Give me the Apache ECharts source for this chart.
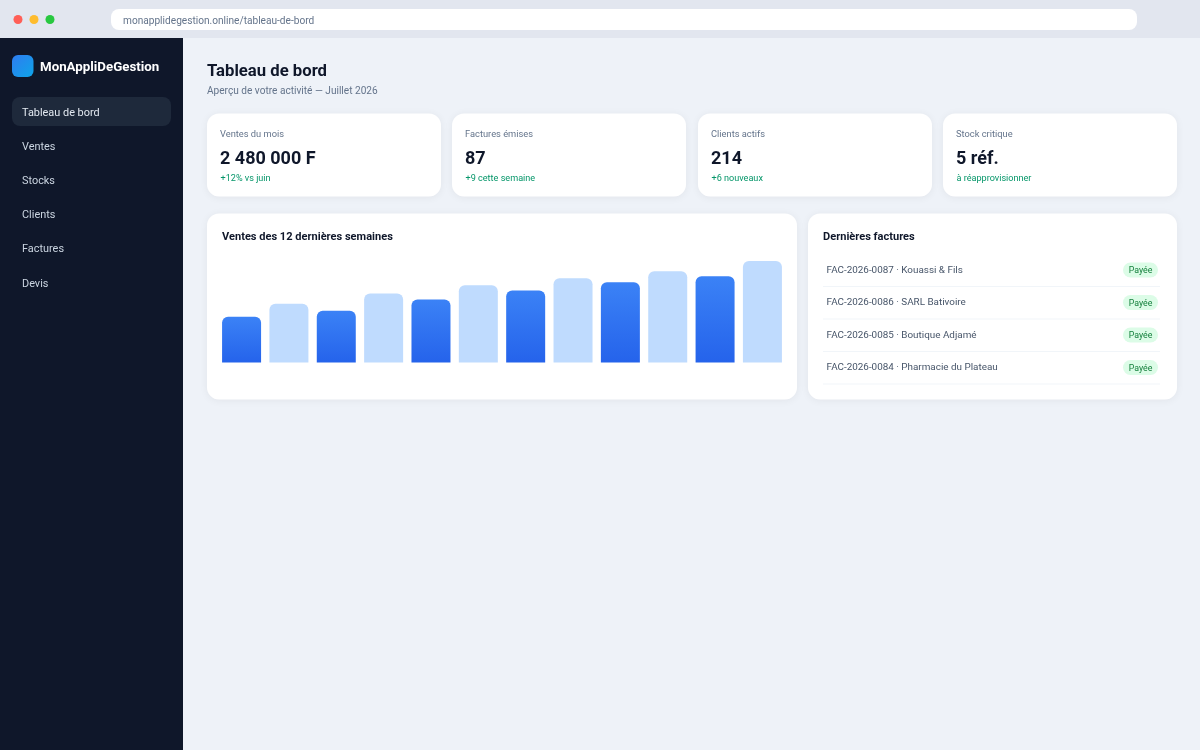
<!DOCTYPE html>
<html lang="fr"><head><meta charset="utf-8"><title>Tableau de bord</title>
<style>html,body{margin:0;padding:0;background:#eef2f8}#c{width:1200px;height:750px}</style>
<script src="https://cdn.jsdelivr.net/npm/echarts@6/dist/echarts.min.js"></script></head>
<body><div id="c"></div>
<script>
const weeks = ['S1','S2','S3','S4','S5','S6','S7','S8','S9','S10','S11','S12'];
const sales = [45,58,51,68,62,76,71,83,79,90,85,100];
const navItems = ['Tableau de bord','Ventes','Stocks','Clients','Factures','Devis'];
const kpiLabels = ['Ventes du mois','Factures émises','Clients actifs','Stock critique'];
const kpiValues = ['2 480 000 F','87','214','5 réf.'];
const kpiNotes = ['+12% vs juin','+9 cette semaine','+6 nouveaux','à réapprovisionner'];
const invoices = ['FAC-2026-0087 · Kouassi & Fils','FAC-2026-0086 · SARL Bativoire','FAC-2026-0085 · Boutique Adjamé','FAC-2026-0084 · Pharmacie du Plateau'];

const FF = 'Roboto, "Noto Sans", sans-serif';
const g = [];
const rect = (x,y,w,h,fill,r,extra) => g.push({type:'rect',shape:{x,y,width:w,height:h,r:r||0},style:Object.assign({fill},extra||{}),silent:true});
const text = (x,y,t,size,fill,weight,align) => g.push({type:'text',x,y,silent:true,style:{text:t,font:(weight||'normal')+' '+size+'px '+FF,fill,textAlign:align||'left',textVerticalAlign:'middle'}});
const shadow = {shadowColor:'rgba(15,23,42,0.06)',shadowBlur:8,shadowOffsetY:1};

// window chrome
rect(0,0,1200,750,'#eef2f8');
rect(0,0,1200,38,'#e2e6ef');
[['#ff5f57',18],['#febc2e',34],['#28c840',50]].forEach(d=>g.push({type:'circle',shape:{cx:d[1],cy:19.5,r:4.5},style:{fill:d[0]},silent:true}));
rect(111,9,1026,21,'#ffffff',8);
text(123,21,'monapplidegestion.online/tableau-de-bord',10.15,'#64748b');

// sidebar
rect(0,38,183,712,'#0f172a');
rect(12,55,21.5,22,new echarts.graphic.LinearGradient(0,0,1,1,[{offset:0,color:'#2f7cf0'},{offset:1,color:'#0ea5e9'}]),6);
text(40,68,'MonAppliDeGestion',13.3,'#ffffff','bold');
rect(12,97,159,29,'#1e293b',8);
const navY=[113,147,181,215,249,284];
navItems.forEach((n,i)=>text(22,navY[i],n,10.9,i===0?'#e2e8f0':'#cbd5e1'));

// heading
text(207,72,'Tableau de bord',16.7,'#0f172a','bold');
text(207,91,'Aperçu de votre activité — Juillet 2026',10.1,'#64748b');

// KPI cards
const cardX=[207,452,698,943];
kpiLabels.forEach((l,i)=>{
  const x=cardX[i];
  rect(x,113.5,234,83,'#ffffff',12,shadow);
  text(x+13,134.5,l,9.3,'#64748b');
  text(x+13,159,kpiValues[i],18,'#0f172a','bold');
  text(x+13.5,178.5,kpiNotes[i],9.1,'#059669');
});

// panels
rect(207,213.5,590,186,'#ffffff',12,shadow);
text(222,237,'Ventes des 12 dernières semaines',11.05,'#0f172a','bold');
rect(808,213.5,369,186,'#ffffff',12,shadow);
text(823,237,'Dernières factures',11.05,'#0f172a','bold');
const rowY=[270,302.5,335,367.5];
const rowTextY=[271,303,336,368];
invoices.forEach((t,i)=>{
  text(826.5,rowTextY[i],t,9.9,'#475569');
  rect(823,rowY[i]+16,337,1,'#f1f5f9');
  rect(1123,rowY[i]-7.5,35,15,'#dcfce7',7.5);
  text(1140.5,rowY[i]+1,'Payée',8.8,'#15803d','normal','center');
});

const blue = new echarts.graphic.LinearGradient(0,0,0,1,[{offset:0,color:'#3b82f6'},{offset:1,color:'#2563eb'}]);
const chart = echarts.init(document.getElementById('c'),null,{renderer:'canvas',width:1200,height:750});
chart.setOption({
  animation:false,
  backgroundColor:'#eef2f8',
  graphic:{elements:g},
  grid:{left:217.9,top:261,width:568.2,height:101.5,containLabel:false},
  tooltip:{show:false},
  xAxis:{type:'category',data:weeks,show:false,boundaryGap:true},
  yAxis:{type:'value',min:0,max:100,show:false},
  series:[{type:'bar',barWidth:39,z:5,silent:true,
    data:sales.map((v,i)=>({value:v,itemStyle:{color:i%2===0?blue:'#bfdbfe',borderRadius:[6,6,0,0]}}))}]
});
</script></body></html>
